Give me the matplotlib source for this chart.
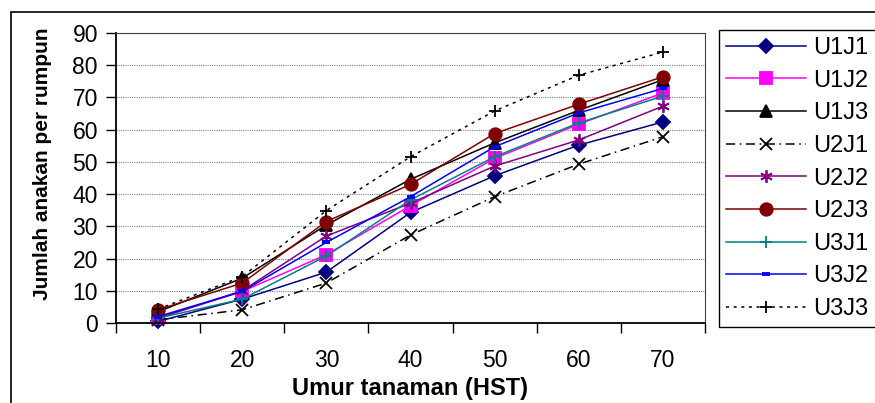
import numpy as np
import matplotlib.pyplot as plt
from matplotlib.patches import Rectangle

plt.rcParams['font.family'] = ['Liberation Sans', 'DejaVu Sans']

# -------------------------------------------------------------
# Data
# -------------------------------------------------------------
umur = ["10", "20", "30", "40", "50", "60", "70"]

u1j1 = [0.5, 7.4, 15.8, 34.3, 45.7, 55.2, 62.4]
u1j2 = [1.5, 9.8, 21.2, 36.4, 51.1, 61.7, 71.4]
u1j3 = [3.5, 13.9, 30.4, 44.6, 55.9, 66.0, 75.5]
u2j1 = [1.0, 4.1, 12.4, 27.3, 39.2, 49.3, 57.8]
u2j2 = [1.5, 10.0, 27.0, 37.2, 48.7, 56.8, 67.3]
u2j3 = [4.1, 12.4, 31.5, 43.0, 58.8, 67.9, 76.4]
u3j1 = [1.5, 7.4, 20.8, 38.2, 51.6, 62.1, 70.4]
u3j2 = [2.0, 9.8, 25.0, 39.2, 54.7, 65.2, 72.8]
u3j3 = [4.3, 14.4, 34.9, 51.6, 65.8, 76.9, 84.1]

series = [
    ("U1J1", u1j1, "#000080", "D", "-", 7),
    ("U1J2", u1j2, "#FF00FF", "s", "-", 8),
    ("U1J3", u1j3, "#000000", "^", "-", 8),
    ("U2J1", u2j1, "#000000", "x", (0, (6, 3, 1, 3)), 8),
    ("U2J2", u2j2, "#800080", (6, 2, 0), "-", 9),
    ("U2J3", u2j3, "#800000", "o", "-", 9),
    ("U3J1", u3j1, "#008080", "+", "-", 9),
    ("U3J2", u3j2, "#0000FF", "_", "-", 6),
    ("U3J3", u3j3, "#000000", "+", (0, (2, 3)), 9),
]

# -------------------------------------------------------------
# Plot
# -------------------------------------------------------------
fig = plt.figure(figsize=(8.75, 4.03), dpi=100)
ax = fig.add_axes([116 / 875, 1 - 323 / 403, (705 - 116) / 875, (323 - 33) / 403])

x = np.arange(len(umur))
handles = []
for name, vals, col, mk, ls, ms in series:
    mew = 2.8 if mk == "_" else 1.3
    h, = ax.plot(x, vals, color=col, marker=mk, linestyle=ls, lw=1.1,
                 markersize=ms, markeredgewidth=mew, label=name, clip_on=False)
    handles.append(h)

ax.set_xlim(-0.5, len(umur) - 0.5)
ax.set_ylim(0, 90)
ax.set_yticks(np.arange(0, 91, 10))
ax.tick_params(axis="y", labelsize=16.5, length=7, width=1, direction="out", pad=6)

# category boundaries get ticks, labels sit at category centres
ax.set_xticks(np.arange(-0.5, len(umur), 1.0))
ax.set_xticklabels([])
ax.set_xticks(x, minor=True)
ax.set_xticklabels(umur, minor=True)
ax.tick_params(axis="x", which="major", length=7, width=1, direction="out")
ax.tick_params(axis="x", which="minor", length=0, labelsize=16.5, pad=19)

ax.grid(True, axis="y", color="#808080", linestyle=(0, (1, 1)), lw=0.8)
ax.set_axisbelow(True)
for side in ["top", "right"]:
    ax.spines[side].set_color("#404040")
    ax.spines[side].set_linewidth(0.8)
ax.spines["left"].set_linewidth(1.3)
ax.spines["bottom"].set_linewidth(1.3)

ax.set_xlabel("Umur tanaman (HST)", fontsize=17, fontweight="bold")
ax.set_ylabel("Jumlah anakan per rumpun", fontsize=15, fontweight="bold")
ax.xaxis.set_label_coords(0.5, -(377 - 323) / 290)
ax.yaxis.set_label_coords((52 - 116) / 589, (323 - 164) / 290)

leg = fig.legend(handles=handles, loc="upper left",
                 bbox_to_anchor=(719 / 875, 1 - 30 / 403), borderaxespad=0,
                 fontsize=17, handlelength=3.4, handletextpad=0.3,
                 labelspacing=0.45, borderpad=0.3, fancybox=False,
                 edgecolor="black", framealpha=1)
leg.get_frame().set_linewidth(1.0)

# outer chart border
fig.patches.append(Rectangle((11 / 875, -0.1), 1.2, 1.1 - 12 / 403,
                             transform=fig.transFigure, fill=False,
                             edgecolor="black", lw=1.2))

fig.savefig("out.png", dpi=100)
